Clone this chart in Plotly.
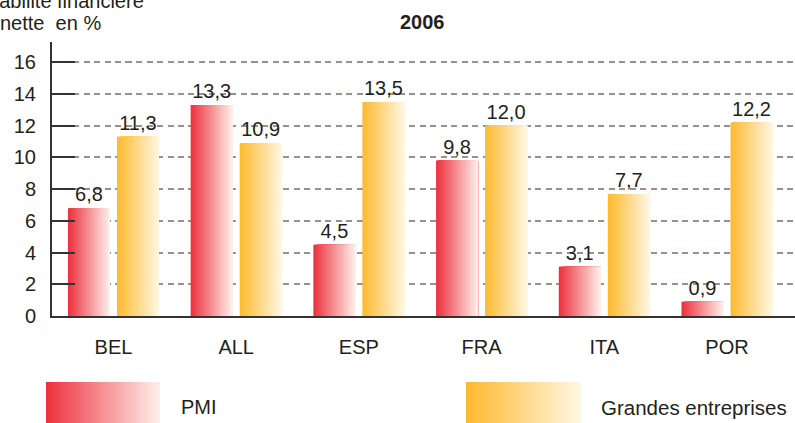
import plotly.graph_objects as go

# ---------------- data ----------------
categories = ["BEL", "ALL", "ESP", "FRA", "ITA", "POR"]
pmi_values = [6.8, 13.3, 4.5, 9.8, 3.1, 0.9]
ge_values = [11.3, 10.9, 13.5, 12.0, 7.7, 12.2]
series_names = ["PMI", "Grandes entreprises"]
y_ticks = [0, 2, 4, 6, 8, 10, 12, 14, 16]
title_text = "2006"
y_label_lines = ["Rentabilité financière", "nette  en %"]

# ---------------- styling ----------------
W, H = 795, 423
ML, MR, MT, MB = 52, 0, 42, 107
PW, PH = W - ML - MR, H - MT - MB
TXT = "#231F20"
FONT = "Liberation Sans, Arial, sans-serif"

pmi_left, pmi_right = (236, 48, 60), (255, 240, 236)
ge_left, ge_right = (253, 186, 46), (255, 247, 228)

bar_w = 0.342
pmi_off = -0.371
ge_off = 0.0285
N = 40


def mix(c1, c2, t):
    return "rgb(%d,%d,%d)" % tuple(round(a + (b - a) * t) for a, b in zip(c1, c2))


def fmt(v):
    return ("%.1f" % v).replace(".", ",")


fig = go.Figure()


def add_gradient_bars(values, off, c1, c2, name):
    step = bar_w / N
    for k in range(N):
        fig.add_trace(go.Bar(
            x=categories, y=values,
            offset=off + k * step, width=bar_w - k * step,
            marker=dict(color=mix(c1, c2, (k + 0.5) / N), line=dict(width=0)),
            hoverinfo="skip", showlegend=False, name=name,
        ))
    # value labels
    fig.add_trace(go.Bar(
        x=categories, y=values, offset=off, width=bar_w,
        marker=dict(color="rgba(0,0,0,0)", line=dict(width=0)),
        text=[fmt(v) for v in values], textposition="outside",
        textfont=dict(size=20, color=TXT, family=FONT),
        cliponaxis=False, showlegend=False, name=name,
        hovertemplate="%{x}: %{text}<extra>" + name + "</extra>",
    ))


add_gradient_bars(pmi_values, pmi_off, pmi_left, pmi_right, series_names[0])
add_gradient_bars(ge_values, ge_off, ge_left, ge_right, series_names[1])


def px_x(px):
    return (px - ML) / PW


def px_y(py):
    return (H - MB - py) / PH


shapes = []


def legend_swatch(x0, x1, y0, y1, c1, c2):
    n = x1 - x0
    for k in range(n):
        shapes.append(dict(
            type="rect", xref="paper", yref="paper",
            x0=px_x(x0 + k), x1=px_x(x1), y0=px_y(y1), y1=px_y(y0),
            fillcolor=mix(c1, c2, (k + 0.5) / n), line=dict(width=0), layer="above",
        ))


legend_swatch(46, 160, 382, 424, pmi_left, pmi_right)
legend_swatch(466, 581, 382, 424, ge_left, ge_right)

annotations = [
    dict(text="<b>%s</b>" % title_text, x=px_x(422), y=px_y(22), xref="paper", yref="paper",
         xanchor="center", yanchor="middle", showarrow=False,
         font=dict(size=20, color=TXT, family=FONT)),
    dict(text=y_label_lines[0], x=px_x(50), y=px_y(1), xref="paper", yref="paper",
         xanchor="center", yanchor="middle", showarrow=False,
         font=dict(size=20, color=TXT, family=FONT)),
    dict(text=y_label_lines[1], x=px_x(50), y=px_y(23), xref="paper", yref="paper",
         xanchor="center", yanchor="middle", showarrow=False,
         font=dict(size=20, color=TXT, family=FONT)),
    dict(text=series_names[0], x=px_x(179), y=px_y(407), xref="paper", yref="paper",
         xanchor="left", yanchor="middle", showarrow=False,
         font=dict(size=20, color=TXT, family=FONT)),
    dict(text=series_names[1], x=px_x(599), y=px_y(407), xref="paper", yref="paper",
         xanchor="left", yanchor="middle", showarrow=False,
         font=dict(size=20.5, color=TXT, family=FONT)),
]

fig.update_layout(
    width=W, height=H, autosize=False,
    margin=dict(l=ML, r=MR, t=MT, b=MB, pad=0),
    barmode="overlay",
    plot_bgcolor="white", paper_bgcolor="white",
    showlegend=False,
    shapes=shapes, annotations=annotations,
    font=dict(family=FONT, color=TXT, size=20),
)
fig.update_xaxes(
    type="category", range=[-0.501, 5.554],
    showline=True, linecolor="#333333", linewidth=2,
    ticks="", showgrid=False, zeroline=False,
    tickfont=dict(size=20, color=TXT, family=FONT),
    ticklabelstandoff=12,
)
fig.update_yaxes(
    range=[0, 17.28], tickvals=y_ticks,
    showline=True, linecolor="#333333", linewidth=2,
    ticks="inside", ticklen=23, tickwidth=2, tickcolor="#333333",
    showgrid=True, gridcolor="#9C8F8C", gridwidth=1.5, griddash="6px,4.5px",
    zeroline=False,
    tickfont=dict(size=20, color=TXT, family=FONT),
    ticklabelstandoff=10,
)

fig.write_html(
    "out.html",
    config={"displayModeBar": False},
    post_script="document.body.style.margin='0';document.body.style.overflow='hidden';",
)
